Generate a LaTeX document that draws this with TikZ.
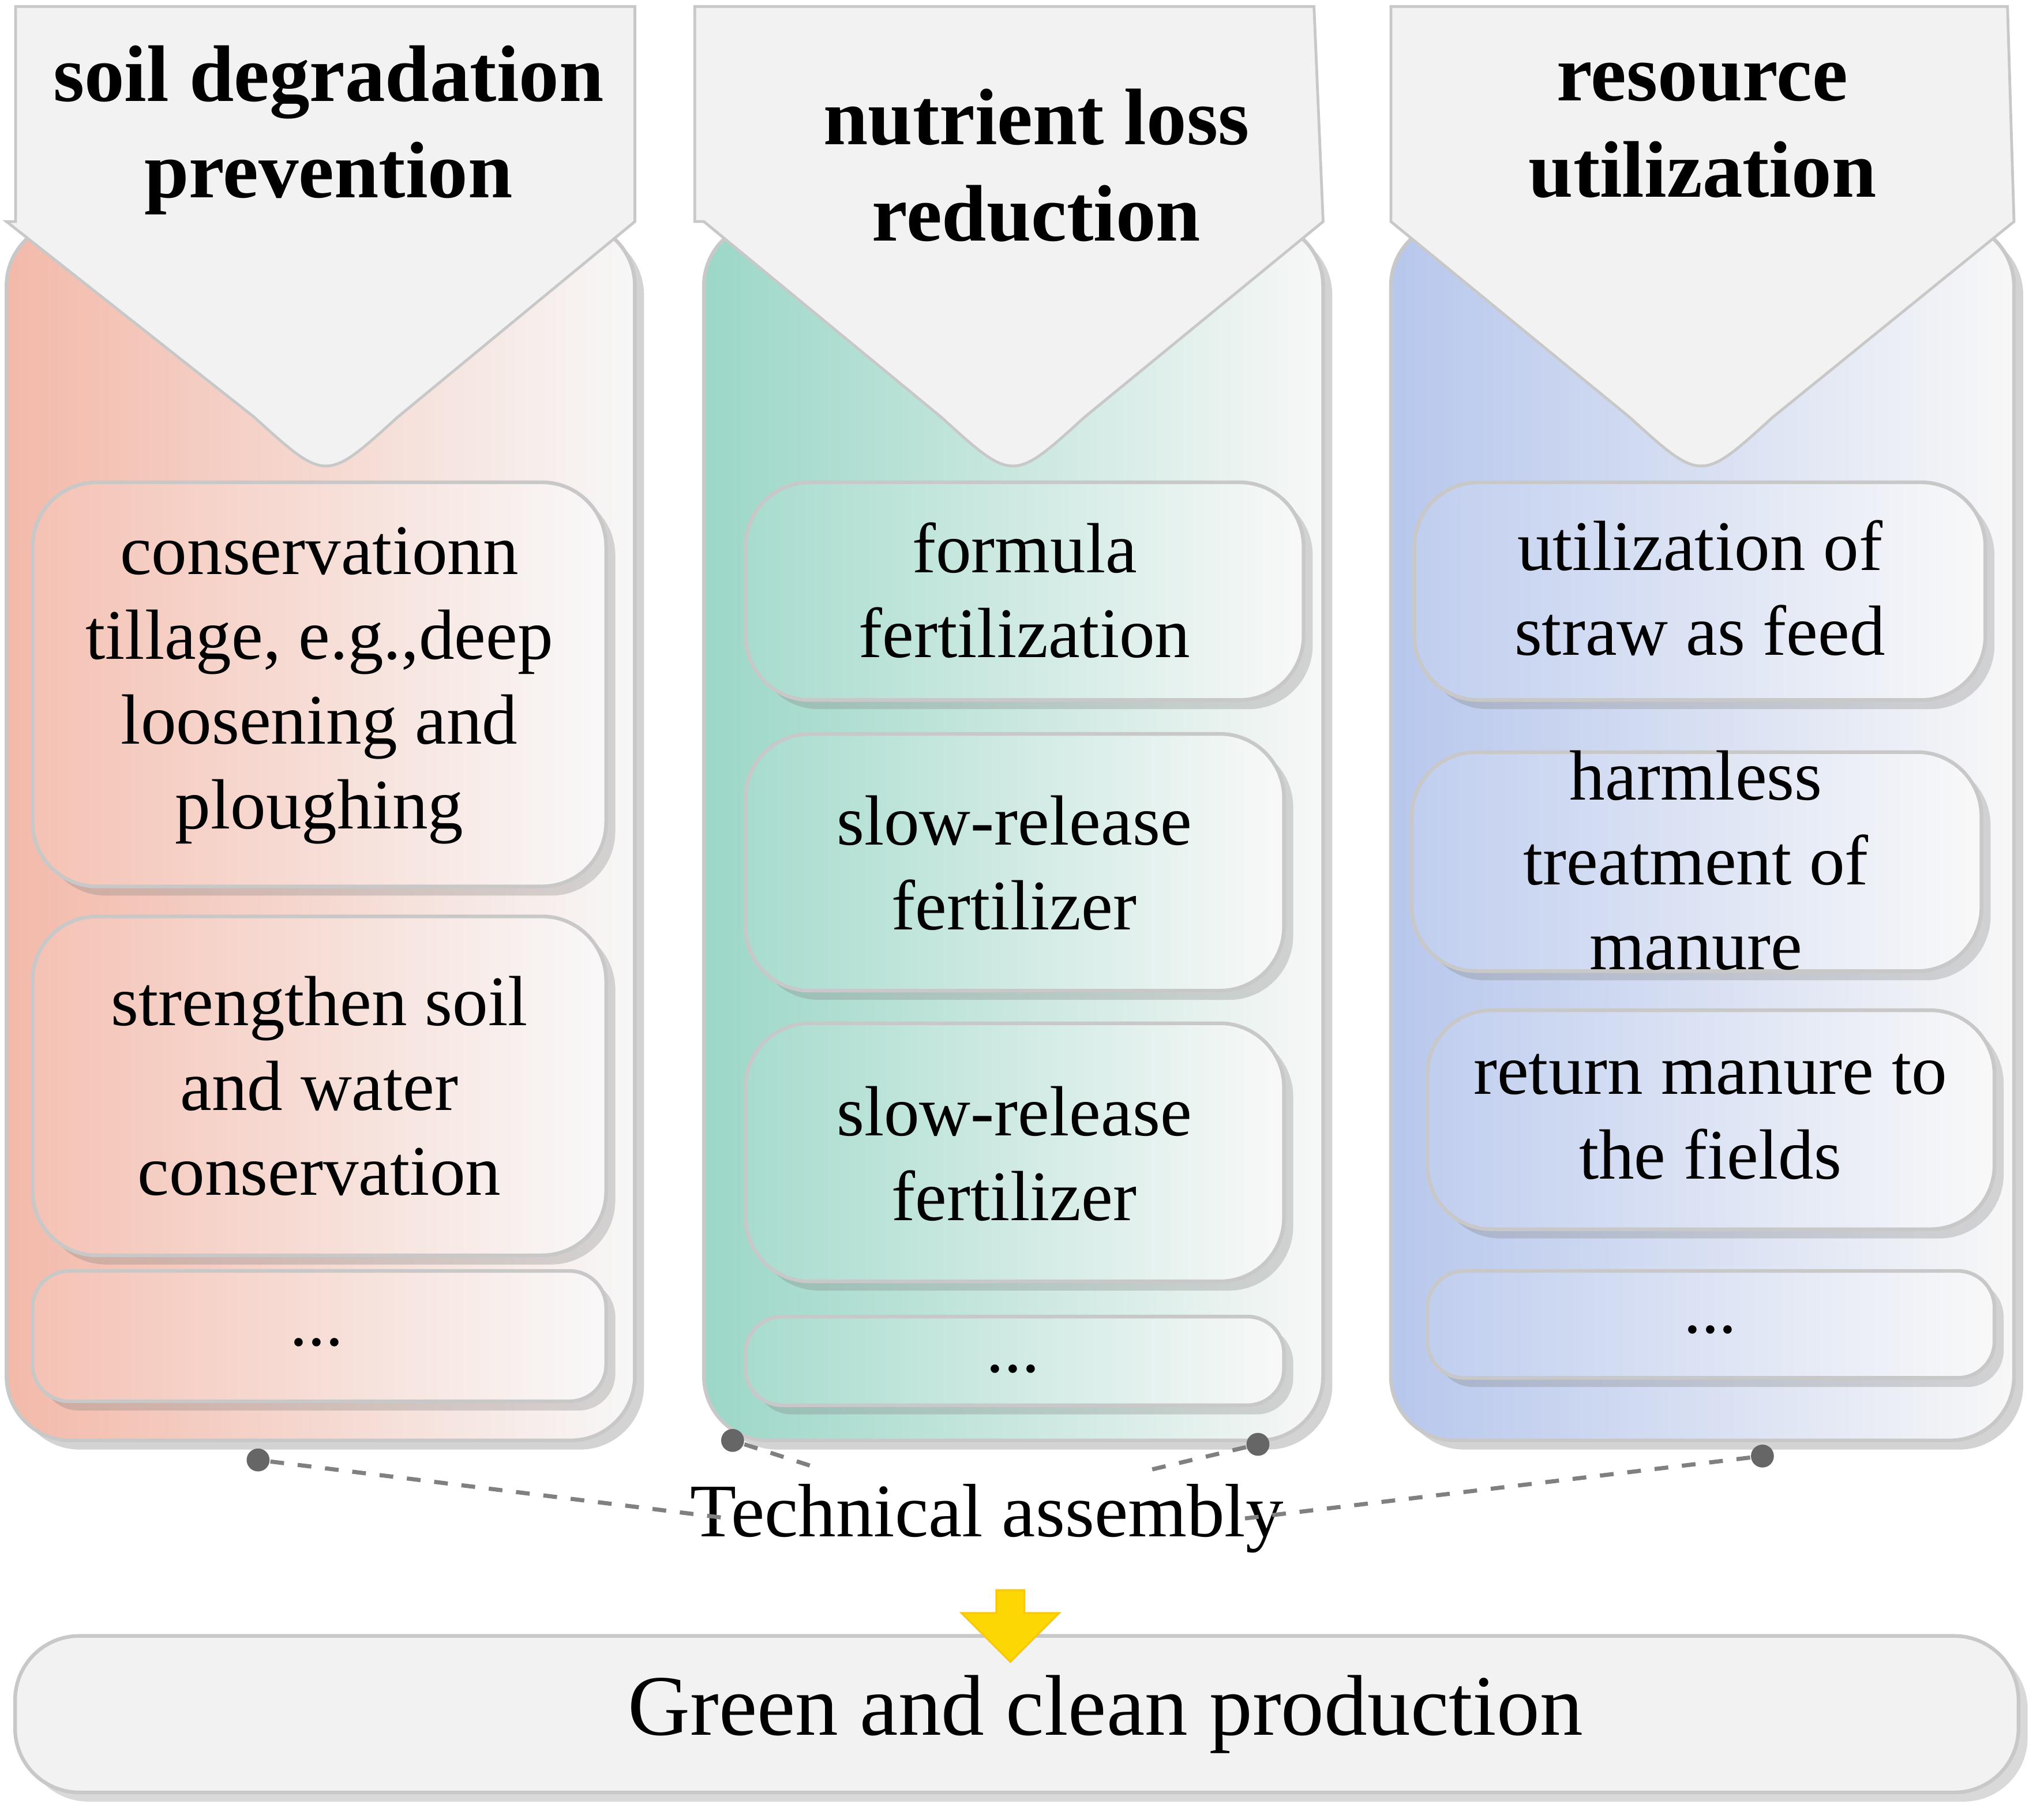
\documentclass[tikz,border=0pt]{standalone}
\usepackage{fontspec}
\setmainfont{Liberation Serif}
\usetikzlibrary{shadows,shapes.arrows}
\definecolor{c1}{RGB}{240,168,148}
\definecolor{c2}{RGB}{130,205,185}
\definecolor{c3}{RGB}{165,185,232}
\definecolor{hd}{RGB}{242,242,242}
\definecolor{ed}{RGB}{200,200,200}
\tikzset{
  body/.style={draw=ed,line width=0.8pt,rounded corners=14pt,drop shadow={opacity=0.35,shadow xshift=2pt,shadow yshift=-2pt}},
  head/.style={fill=hd,draw=ed,line width=0.6pt},
  ibox/.style={draw=ed,line width=0.8pt,rounded corners=14pt,drop shadow={opacity=0.3,shadow xshift=2pt,shadow yshift=-2pt}},
  sbox/.style={ibox,rounded corners=8pt},
  htxt/.style={font=\bfseries\fontsize{17.5}{21}\selectfont,align=center},
  btxt/.style={font=\fontsize{15.5}{18.5}\selectfont,align=center},
  dot/.style={circle,fill=gray!80!black,inner sep=0pt,minimum size=5pt},
  dl/.style={dashed,gray,line width=0.9pt}
}
\begin{document}
\begin{tikzpicture}[x=0.01cm,y=-0.01cm]
\useasboundingbox (0,0) rectangle (1568,1395);
% column 1
\shade[body,left color=c1!80,right color=white!94!gray] (5,170) rectangle (487,1105);
\path[head] (12,5)--(487,5)--(487,170)--(305,320) .. controls (250,370) .. (195,320)--(5,170)--(12,170)--cycle;
\node[htxt] (h1) at (252,100) {soil degradation\\prevention};
\shade[ibox,left color=c1!70,right color=white!95!gray] (25,370) rectangle (465,680);
\node[btxt] (t11) at (245,526) {conservationn\\tillage, e.g.,deep\\loosening and\\ploughing};
\shade[ibox,left color=c1!70,right color=white!95!gray] (25,703) rectangle (465,963);
\node[btxt] (t12) at (245,833) {strengthen soil\\and water\\conservation};
\shade[sbox,left color=c1!70,right color=white!95!gray] (25,975) rectangle (465,1075);
\node[btxt] (t13) at (243,1030) {...};
% column 2
\shade[body,left color=c2!80,right color=white!94!gray] (540,170) rectangle (1015,1105);
\path[head] (533,5)--(1008,5)--(1015,170)--(832,320) .. controls (777,370) .. (722,320)--(540,170)--(533,170)--cycle;
\node[htxt] (h2) at (795,127) {nutrient loss\\reduction};
\shade[ibox,left color=c2!70,right color=white!95!gray] (572,370) rectangle (1000,537);
\node[btxt] (t21) at (786,453) {formula\\fertilization};
\shade[ibox,left color=c2!70,right color=white!95!gray] (572,563) rectangle (985,760);
\node[btxt] (t22) at (778,662) {slow-release\\fertilizer};
\shade[ibox,left color=c2!70,right color=white!95!gray] (572,785) rectangle (985,983);
\node[btxt] (t23) at (778,885) {slow-release\\fertilizer};
\shade[sbox,left color=c2!70,right color=white!95!gray] (572,1010) rectangle (985,1078);
\node[btxt] (t24) at (777,1050) {...};
% column 3
\shade[body,left color=c3!80,right color=white!94!gray] (1067,170) rectangle (1545,1105);
\path[head] (1067,5)--(1540,5)--(1545,170)--(1360,320) .. controls (1305,370) .. (1250,320)--(1067,170)--cycle;
\node[htxt] (h3) at (1306,100) {resource\\utilization};
\shade[ibox,left color=c3!70,right color=white!95!gray] (1085,370) rectangle (1523,537);
\node[btxt] (t31) at (1304,451) {utilization of\\straw as feed};
\shade[ibox,left color=c3!70,right color=white!95!gray] (1083,577) rectangle (1520,745);
\node[btxt] (t32) at (1301,660) {harmless\\treatment of\\manure};
\shade[ibox,left color=c3!70,right color=white!95!gray] (1095,775) rectangle (1530,943);
\node[btxt] (t33) at (1312,857) {return manure to\\the fields};
\shade[sbox,left color=c3!70,right color=white!95!gray] (1095,975) rectangle (1530,1057);
\node[btxt] (t34) at (1312,1020) {...};
% assembly
\node[font=\fontsize{16.5}{19}\selectfont,inner sep=1pt] (ta) at (757,1165) {Technical assembly};
\node[dot] (d1) at (198,1120) {};
\node[dot] (d2) at (562,1105) {};
\node[dot] (d3) at (965,1108) {};
\node[dot] (d4) at (1352,1117) {};
\draw[dl] (d1) -- ([xshift=10pt]ta.west);
\draw[dl] (d2) -- ([xshift=30pt,yshift=2pt]ta.north west);
\draw[dl] (d3) -- ([xshift=-30pt,yshift=2pt]ta.north east);
\draw[dl] (d4) -- ([xshift=-10pt]ta.east);
% bottom
\node[ibox,fill=hd,minimum width=15.36cm,minimum height=1.2cm] (gp) at (780,1315) {};
\node[font=\fontsize{18.8}{22}\selectfont] (gt) at (848,1315) {Green and clean production};
\node[single arrow,shape border rotate=270,fill=yellow!75!orange,draw=yellow!60!orange,minimum height=0.55cm,minimum width=0.75cm,single arrow head extend=3pt,inner sep=1pt] (ar) at (775,1242) {};
\end{tikzpicture}
\end{document}
